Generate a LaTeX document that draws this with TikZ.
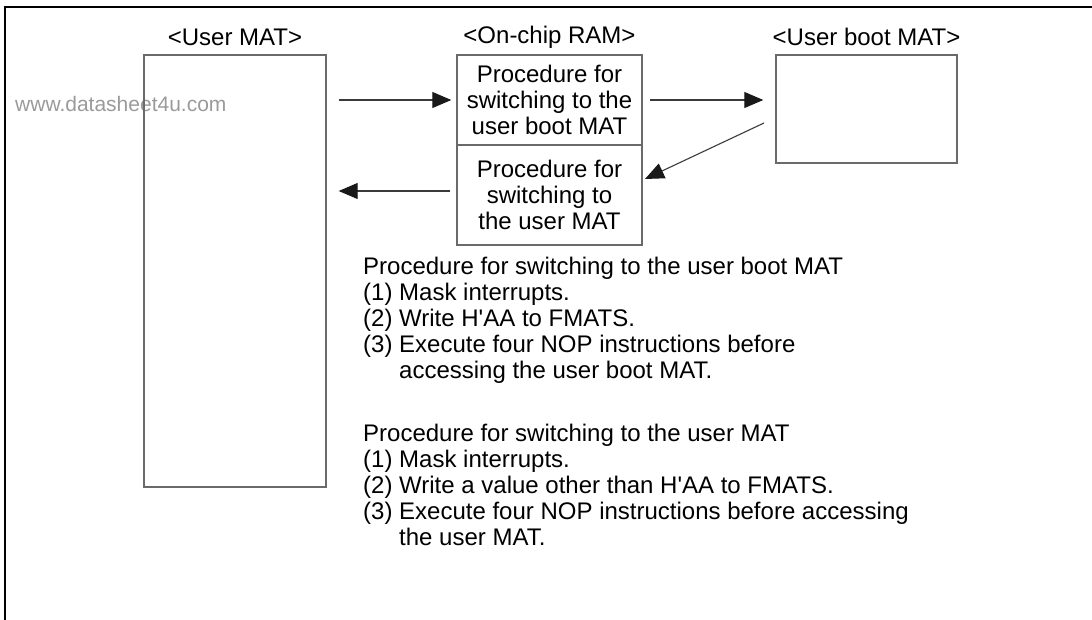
\documentclass[tikz,border=0pt]{standalone}
\usepackage{fontspec}
\setmainfont{Liberation Sans}
\usetikzlibrary{arrows.meta}
\definecolor{boxgray}{HTML}{6A6A6A}
\definecolor{arrgray}{HTML}{3A3A3A}
\definecolor{wmgray}{HTML}{9A9A9A}
\begin{document}
\begin{tikzpicture}[x=1pt,y=-1pt,
  box/.style={draw=boxgray,line width=1.4pt,inner sep=0pt,align=center,
    font=\fontsize{24}{26}\selectfont},
  lbl/.style={font=\fontsize{24}{26}\selectfont,inner sep=0pt},
  txt/.style={font=\fontsize{24}{26}\selectfont,inner sep=0pt,align=left},
  wm/.style={font=\fontsize{21}{24}\selectfont,text=wmgray,inner sep=0pt},
  arr/.style={draw=arrgray,line width=1.1pt,-{Triangle[length=19pt,width=16pt,color=black!90]}}]
\useasboundingbox (0,0) rectangle (1092,620);
% frame (top and left edges)
\draw[line width=2pt] (5,620) -- (5,7) -- (1092,7);
% watermark
\node[wm,anchor=west] (wmk) at (15,104) {www.datasheet4u.com};
% boxes
\node[box,minimum width=182pt,minimum height=432pt] (umat) at (235,271) {};
\node[box,minimum width=185pt,minimum height=90pt] (ramtop) at (549.5,100)
  {Procedure for\\switching to the\\user boot MAT};
\node[box,minimum width=185pt,minimum height=100pt] (rambot) at (549.5,195)
  {Procedure for\\switching to\\the user MAT};
\node[box,minimum width=181pt,minimum height=108pt] (boot) at (866.5,109) {};
% labels
\node[lbl] (umatl) at (235,37) {<User MAT>};
\node[lbl] (raml) at (549.5,37) {<On-chip RAM>};
\node[lbl] (bootl) at (866.5,37) {<User boot MAT>};
% arrows
\draw[arr] ([xshift=12pt]umat.east |- ramtop.west) -- ([xshift=-5pt]ramtop.west);
\draw[arr] ([xshift=7pt]ramtop.east) -- ([xshift=-12pt]boot.west |- ramtop.east);
\coordinate (a3s) at (764,123);
\coordinate (a3e) at (645,179);
\draw[arr] (a3s) -- (a3e);
\draw[arr] ([xshift=-6pt,yshift=4pt]rambot.west) -- ([xshift=12pt,yshift=4pt]umat.east |- rambot.west);
% procedure texts
\node[txt,anchor=north west] (p1) at (363,257)
  {Procedure for switching to the user boot MAT\\
   (1) Mask interrupts.\\
   (2) Write H\textquotesingle AA to FMATS.\\
   (3) Execute four NOP instructions before\\
   \phantom{(3) }accessing the user boot MAT.};
\node[txt,anchor=north west] (p2) at (363,424)
  {Procedure for switching to the user MAT\\
   (1) Mask interrupts.\\
   (2) Write a value other than H\textquotesingle AA to FMATS.\\
   (3) Execute four NOP instructions before accessing\\
   \phantom{(3) }the user MAT.};
\end{tikzpicture}
\end{document}
